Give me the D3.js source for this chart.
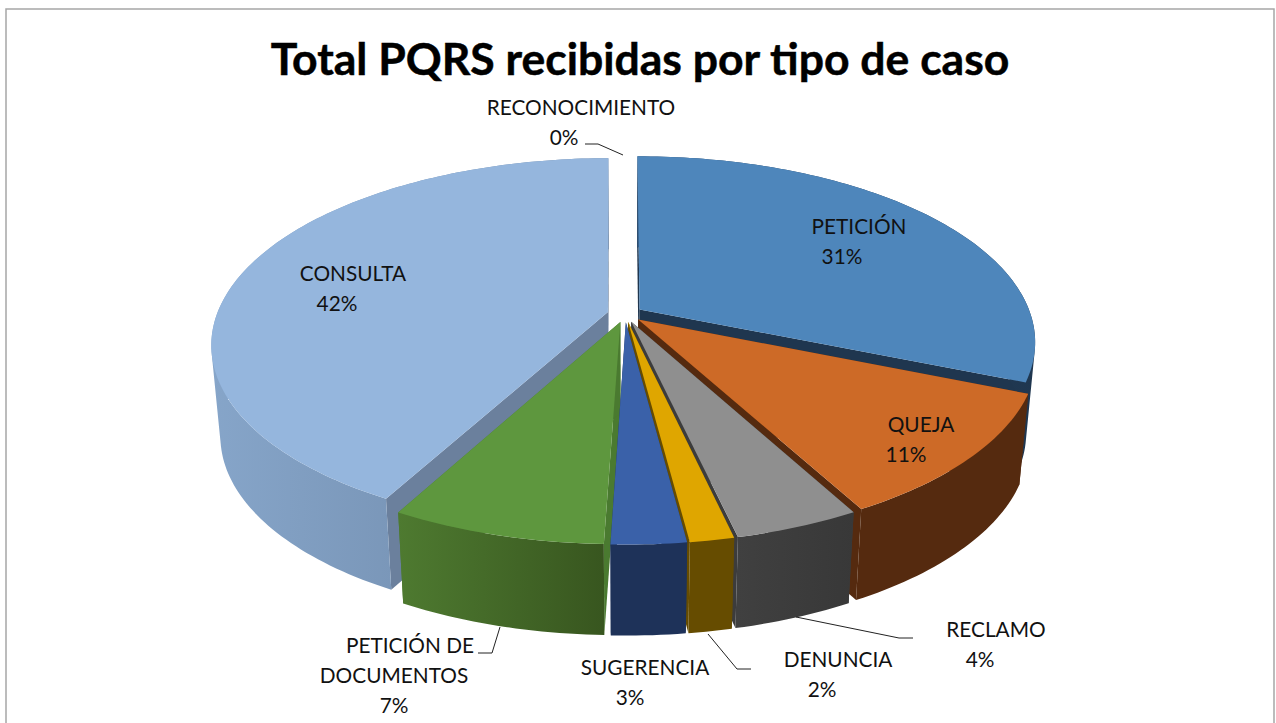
<!DOCTYPE html>
<html>
<head>
<meta charset="utf-8">
<script src="https://cdn.jsdelivr.net/npm/d3@7"></script>
<style>
	html, body { margin: 0; padding: 0; background: #fff; overflow: hidden; }
	text { font-family: Lato, "Open Sans", sans-serif; fill: #111; }
</style>
</head>
<body>
<div class="svg-container"></div>
<script>
// values, the printed labels are these rounded
var categories = ["PETICIÓN", "QUEJA", "RECLAMO", "DENUNCIA", "SUGERENCIA", "PETICIÓN DE DOCUMENTOS", "CONSULTA", "RECONOCIMIENTO"];
var shares = [31.2, 10.9, 4.33, 1.52, 2.57, 7.38, 42.0, 0.1];

// colours per category: top face, inner wall, outer wall (left and right end of the gradient)
var topColors = ["#4e86bb", "#cd6a27", "#8f8f8f", "#dfa600", "#3a61a9", "#5e973e", "#95b6dd", "#ffffff"];
var innerColors = ["#1f364f", "#552a0f", "#3c3c3c", "#664c00", "#1e3259", "#4a7a30", "#6b809d", "#ffffff"];
var wallLeft = ["#2a4c70", "#552a0f", "#404040", "#664c00", "#1e3259", "#4e7a30", "#86a5c9", "#ffffff"];
var wallRight = ["#1f364f", "#552a0f", "#383838", "#664c00", "#1e3259", "#38561f", "#6c86a6", "#ffffff"];

// paint order, back to front
var paintOrder = [7, 0, 6, 1, 5, 2, 3, 4];

var pageWidth = 1276,
	pageHeight = 723,
	cx = 625,
	cy = 314,
	radiusX = 391,
	radiusY = 181,
	perspective = 0.172,
	explode = 0.045,
	wallHeight = 91,
	wallShrink = 0.978;

// label lines, one entry per line: category index, x, y
var labelLayout = [
	[0, 859, 227], [0, 842, 257],
	[1, 921, 425], [1, 906, 455],
	[2, 996, 630], [2, 980, 660],
	[3, 838, 660], [3, 822, 690],
	[4, 645, 668], [4, 630, 698],
	[5, 410, 646], [5, 394, 676], [5, 394, 706],
	[6, 353, 274], [6, 337, 304],
	[7, 581, 108], [7, 564, 138]
];

var leaderLines = [
	[[585, 144], [598, 144], [623, 155]],
	[[913, 638], [899, 638], [796, 617]],
	[[751, 669], [737, 669], [708, 634]],
	[[478, 653], [492, 653], [500, 627]]
];

var svg = d3.select(".svg-container")
	.append("svg")
	.attr("width", pageWidth)
	.attr("height", pageHeight);

// top ring and the slightly narrower, lower bottom ring
var xTop = d3.scaleLinear().domain([-1, 1]).range([cx - radiusX, cx + radiusX]);
var yTop = d3.scaleLinear().domain([-1, 1]).range([cy - radiusY, cy + radiusY]);
var xBottom = d3.scaleLinear().domain([-1, 1]).range([cx - radiusX * wallShrink, cx + radiusX * wallShrink]);
var yBottom = d3.scaleLinear().domain([-1, 1]).range([cy - radiusY + wallHeight, cy + radiusY + wallHeight]);

var line = d3.line();

var slices = d3.pie().sort(null).value(function(d) { return d; })(shares);

function project(slice, r, angle, bottom) {
	var mid = (slice.startAngle + slice.endAngle) / 2;
	var dx = r * Math.sin(angle) + explode * Math.sin(mid);
	var dy = -r * Math.cos(angle) - explode * Math.cos(mid);
	var w = 1 - perspective * dy;
	if (bottom) return [xBottom(dx / w), yBottom(dy / w)];
	return [xTop(dx / w), yTop(dy / w)];
}

function arcPoints(slice, bottom) {
	var steps = Math.max(2, Math.ceil((slice.endAngle - slice.startAngle) / 0.02));
	return d3.range(steps + 1).map(function(i) {
		var a = slice.startAngle + (slice.endAngle - slice.startAngle) * i / steps;
		return project(slice, 1, a, bottom);
	});
}

function edgeWall(slice, angle) {
	return [
		project(slice, 0, angle, false),
		project(slice, 1, angle, false),
		project(slice, 1, angle, true),
		project(slice, 0, angle, true)
	];
}

var defs = svg.append("defs");

function drawFrame() {
	svg.append("path")
		.attr("d", line([[6, pageHeight], [6, 9], [1274, 9], [1274, pageHeight]]))
		.attr("fill", "none")
		.attr("stroke", "#a6a6a6")
		.attr("stroke-width", 1.5);
}

function drawSlice(i) {
	var slice = slices[i];
	var topArc = arcPoints(slice, false);
	var bottomArc = arcPoints(slice, true);
	var g = svg.append("g").attr("class", "slice");

	var xs = topArc.map(function(p) { return p[0]; });
	var grad = defs.append("linearGradient")
		.attr("id", "wall" + i)
		.attr("gradientUnits", "userSpaceOnUse")
		.attr("x1", d3.min(xs)).attr("x2", d3.max(xs))
		.attr("y1", 0).attr("y2", 0);
	grad.append("stop").attr("offset", 0).attr("stop-color", wallLeft[i]);
	grad.append("stop").attr("offset", 1).attr("stop-color", wallRight[i]);

	// inner walls along both cut edges
	[slice.startAngle, slice.endAngle].forEach(function(a) {
		g.append("path")
			.attr("d", line(edgeWall(slice, a)) + "Z")
			.attr("fill", innerColors[i]);
	});

	// outer wall as strips in one path, all wound the same way so nonzero fill has no seams
	var wall = d3.range(topArc.length - 1).map(function(k) {
		var quad = [topArc[k], topArc[k + 1], bottomArc[k + 1], bottomArc[k]];
		if (d3.polygonArea(quad) < 0) quad.reverse();
		return line(quad) + "Z";
	}).join("");
	g.append("path")
		.attr("d", wall)
		.attr("fill", "url(#wall" + i + ")");

	// top face
	g.append("path")
		.attr("d", line([project(slice, 0, slice.startAngle, false)].concat(topArc)) + "Z")
		.attr("fill", topColors[i]);
}

function drawLabels() {
	var pct = d3.format(".0f");
	var lastLine = d3.rollup(labelLayout, function(v) { return v.length; }, function(d) { return d[0]; });
	var seen = {};
	labelLayout.forEach(function(d) {
		var i = d[0];
		seen[i] = (seen[i] || 0) + 1;
		var txt;
		if (seen[i] == lastLine.get(i)) {
			txt = pct(shares[i]) + "%";
		} else if (lastLine.get(i) == 3) {
			txt = seen[i] == 1 ? "PETICIÓN DE" : "DOCUMENTOS";
		} else {
			txt = categories[i];
		}
		svg.append("text")
			.attr("x", d[1])
			.attr("y", d[2])
			.attr("dy", "0.36em")
			.attr("text-anchor", "middle")
			.attr("font-size", 20.8)
			.text(txt);
	});
}

function plot() {
	drawFrame();

	svg.append("text")
		.attr("x", 640)
		.attr("y", 75)
		.attr("text-anchor", "middle")
		.attr("font-size", 44.5)
		.attr("font-weight", 700)
		.style("fill", "#000")
		.style("stroke", "#000")
		.style("stroke-width", 0.5)
		.text("Total PQRS recibidas por tipo de caso");

	paintOrder.forEach(drawSlice);

	svg.selectAll(".leader").data(leaderLines)
		.enter()
		.append("path")
		.attr("class", "leader")
		.attr("d", function(d) { return line(d); })
		.attr("fill", "none")
		.attr("stroke", "#222")
		.attr("stroke-width", 1);

	drawLabels();
}

plot();
</script>
</body>
</html>
